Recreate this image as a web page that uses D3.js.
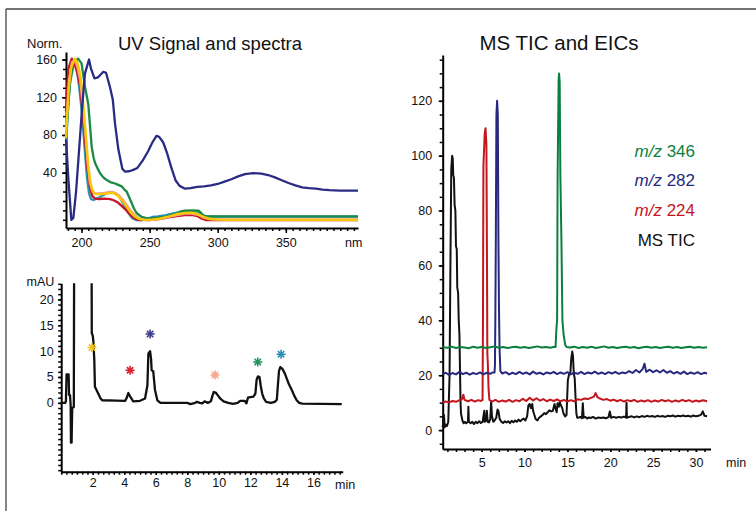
<!DOCTYPE html>
<html><head><meta charset="utf-8">
<script src="https://cdn.jsdelivr.net/npm/d3@7"></script>
<style>
body{margin:0;background:#fff}
text{font-family:"Liberation Sans",Arial,Helvetica,sans-serif;fill:#111}
</style>
</head><body>
<svg id="c" width="756" height="511"></svg>
<script>
// ---------------- DATA ----------------
// UV spectra: [wavelength nm, normalised absorbance]
const specTeal = [[188.6,68],[190.5,118],[192.5,150],[194.5,158],[196.5,150],[198.5,128],[200.5,100],[202.5,62],[204,35],[205.5,18],[207,12],[209,11],[211,12.5],[214,14.5],[218,18],[222,19],[225,18],[228,14],[231,6],[234,-2],[237,-8],[240,-10.2],[244,-10.5],[248,-9],[252,-7],[256,-6.5],[262,-5],[268,-3],[274,-1.5],[280,-1],[285,-1.5],[289,-5],[292,-6.5],[300,-6.7],[403,-6.7]];
const specGreen = [[188.6,80],[191.5,135],[194.5,157],[197.5,161],[200,156],[202.6,131],[204,120],[205,112],[206.5,85],[207.5,67],[209,55],[210,50],[212,44],[213.6,39.3],[216,35],[218.5,32.2],[221,30],[224.6,28.5],[227,27],[229.5,25.5],[231.5,22],[233.2,19.8],[235,14],[236.9,7.5],[238.5,2],[240.6,-3.1],[244.2,-7],[247,-8],[250.4,-8.4],[256,-7.8],[262.6,-6.7],[266,-5],[270,-3.1],[273,-1],[276,-0.3],[281,0],[285.9,-0.3],[288,-3],[289.6,-5.9],[292,-6.5],[294.5,-6.3],[403,-6.3]];
const specRed = [[188.6,105],[190.3,150],[192.8,161],[195,155],[197,145],[199,132],[201,100],[202.6,75],[204,50],[205,36],[206.5,22],[208,15],[210,12.5],[213,12],[217,12.5],[221,12],[224,10.5],[227,8],[230,4],[233,0],[236,-5],[239,-8.5],[242,-10],[250,-10.3],[258,-9],[264,-7.5],[270,-6],[276,-5],[281,-4.8],[285,-6],[288,-8.5],[291,-10.2],[305,-10.4],[403,-10.4]];
const specSalmon = [[188.6,85],[190.8,138],[193,157],[195,160],[197,152],[199,138],[201,110],[203,78],[204.5,50],[206,30],[208,20],[210,18],[213,18],[217,18.5],[221,19.5],[224,19],[227,16.5],[230,12],[233,6],[236,0],[239,-5],[242,-8.5],[246,-10],[252,-10],[258,-9],[264,-7],[270,-5],[276,-3.5],[281,-3.5],[286,-5],[290,-8],[295,-9.5],[403,-9.5]];
const specYellow = [[188.6,77],[190.5,128],[192.5,152],[195.2,161],[197.5,155],[199.5,140],[201.5,110],[203.5,75],[205,48],[206.5,30],[208,21],[210,17.5],[213,17],[217,17.5],[221,18.5],[224,18],[227,15],[230,10],[233,4],[236,-2],[239,-6.5],[242,-9],[246,-10],[252,-9.8],[258,-8.5],[264,-6.5],[270,-4],[276,-2.6],[281,-2.4],[285,-3.5],[289,-6.5],[293,-8.5],[298,-9.6],[304,-10],[403,-10]];
const specNavy = [[188.6,75],[190.5,30],[192.5,-10],[194,-8],[196,20],[198,60],[200.5,110],[202.5,145],[205.5,160],[207,150],[209.5,140],[212,141],[216,147],[218,146],[221,130],[223,117],[224.6,92],[227,65],[230,44],[232,41],[235,41.5],[238,43],[241,45],[245,53],[249,63],[252,72],[255,79],[257,78],[260,72],[263,60],[266,45],[269,32],[272,26],[276,23],[280,23.5],[285,25],[290,25.5],[295,26.5],[300,28],[305,30.5],[310,33],[315,36],[320,38.5],[326,39.5],[332,39],[337,37.5],[342,35],[347,32],[352,29],[357,26.5],[362,24.5],[367,23.5],[372,23],[377,22],[382,21.5],[390,21],[403,21]];

// UV chromatogram: [time min, mAU]
const uvTrace = [[0,0],[0.25,0],[0.3,0.3],[0.34,5.5],[0.47,5.5],[0.5,1.5],[0.56,1.5],[0.6,-0.5],[0.62,-7.7],[0.66,-7.7],[0.68,-4],[0.7,-1],[0.8,-0.8],[0.83,40],[1.92,40],[1.94,13.5],[2.0,13],[2.04,12],[2.1,8.3],[2.14,3.1],[2.3,2.1],[2.5,0.85],[2.6,0.5],[3.5,0.45],[4.05,0.4],[4.15,0.9],[4.26,1.9],[4.4,1.1],[4.57,0.3],[5.0,0.4],[5.32,0.85],[5.47,3.4],[5.53,9.5],[5.64,10],[5.7,8.5],[5.74,6.3],[5.84,6.1],[5.95,2.5],[6.1,0.5],[6.3,0],[8.0,0],[8.2,-0.25],[8.5,0],[8.6,0.2],[8.8,0],[8.95,-0.1],[9.1,0.3],[9.3,0],[9.5,0.3],[9.58,1.2],[9.68,2.1],[9.8,2.0],[9.95,1.4],[10.1,0.8],[10.3,0.3],[10.6,0],[10.9,-0.2],[11.2,0],[11.35,0.4],[11.65,0.4],[11.75,-0.1],[11.85,1],[12.0,1.1],[12.2,1.2],[12.32,1.8],[12.4,4.5],[12.48,5.1],[12.58,5.0],[12.66,3.3],[12.75,1.8],[12.85,0.9],[13.0,0.2],[13.3,0],[13.55,0.2],[13.68,0.6],[13.75,3.5],[13.82,6.2],[13.9,6.9],[14.05,6.5],[14.2,5.6],[14.31,4.7],[14.45,3.6],[14.63,2.5],[14.8,1.3],[14.94,0.5],[15.1,0],[15.3,-0.15],[17.8,-0.25]];
// asterisk markers above the peaks: [time, mAU]
const markTimes = [1.95, 4.37, 5.64, 9.76, 12.47, 13.95];
const markLevels = [10.7, 6.3, 13.3, 5.4, 7.9, 9.4];
const markColors = ["#f3c319","#d6202e","#3d3b8e","#f6a48a","#22915a","#2a8db5"];

// MS traces: [time min, intensity]
const eic346 = [[0.45,30.2],[1,30.0],[1.5,30.4],[2,29.9],[2.5,30.3],[3,30.1],[3.5,29.8],[4,30.4],[4.5,30.0],[5,30.3],[5.5,29.9],[6,30.2],[6.5,30.5],[7,30.0],[7.5,30.3],[8,29.9],[8.5,30.2],[9,30.4],[9.5,30.0],[10,30.3],[10.5,29.9],[11,30.2],[11.5,30.5],[12,30.1],[12.5,30.3],[13,30.0],[13.5,30.4],[13.62,30.3],[13.72,37],[13.8,40],[13.86,93],[13.98,128],[14.03,130],[14.1,127],[14.18,93],[14.3,70],[14.42,40],[14.55,35],[14.75,31],[14.9,30.3],[15.3,30.1],[15.8,30.4],[16.3,29.9],[16.8,30.3],[17.3,30.0],[17.8,30.4],[18.3,29.9],[18.8,30.2],[19.3,30.5],[19.8,30.0],[20.3,30.3],[20.8,29.9],[21.3,30.2],[21.8,30.4],[22.3,30.0],[22.8,30.3],[23.3,29.8],[23.8,30.2],[24.3,30.4],[24.8,30.0],[25.3,30.3],[25.8,29.9],[26.3,30.2],[26.8,30.4],[27.3,30.0],[27.8,30.3],[28.3,29.9],[28.8,30.2],[29.3,30.4],[29.8,30.0],[30.3,30.3],[30.8,30.0],[31.3,30.2]];
const eic282 = [[0.45,20.3],[0.8,20.9],[1.2,20.1],[1.6,20.8],[2.0,20.3],[2.4,21.2],[2.8,20.4],[3.2,20.9],[3.6,20.2],[4.0,20.8],[4.4,20.4],[4.8,21.0],[5.2,20.3],[5.6,20.9],[6.0,20.5],[6.3,21.0],[6.5,21],[6.55,24],[6.6,44],[6.65,70],[6.72,115],[6.8,120],[6.88,115],[6.95,70],[7.02,44],[7.08,30],[7.18,21.5],[7.4,20.6],[7.8,21.1],[8.2,20.3],[8.6,20.9],[9.0,20.4],[9.4,21.2],[9.8,20.5],[10.2,21.0],[10.6,20.3],[11.0,21.3],[11.4,20.5],[11.8,20.9],[12.2,20.3],[12.6,21.0],[13.0,20.6],[13.4,21.2],[13.8,20.4],[14.2,21.0],[14.6,20.5],[15.0,21.1],[15.4,20.3],[15.8,20.9],[16.2,20.5],[16.6,21.2],[17.0,20.4],[17.4,21.0],[17.8,20.6],[18.2,21.3],[18.6,20.5],[19.0,21.0],[19.4,20.4],[19.8,21.1],[20.2,20.6],[20.6,21.2],[21.0,20.5],[21.4,21.0],[21.8,20.7],[22.2,21.5],[22.6,20.8],[23.0,21.9],[23.4,21.0],[23.8,22.3],[24.0,24.2],[24.2,21.2],[24.6,22.0],[25.0,21.1],[25.4,21.8],[25.8,21.0],[26.2,21.9],[26.6,20.9],[27.0,21.5],[27.4,20.6],[27.8,21.2],[28.2,20.5],[28.6,21.3],[29.0,20.4],[29.4,21.0],[29.8,20.5],[30.2,21.1],[30.6,20.4],[31.0,20.9],[31.3,20.6]];
const eic224 = [[0.45,10.0],[0.8,10.4],[1.2,10.1],[1.6,10.6],[2.0,10.3],[2.4,10.9],[2.7,11.2],[2.86,12.9],[3.0,11.0],[3.4,10.5],[3.8,11.0],[4.2,10.4],[4.6,10.9],[4.9,10.6],[5.1,11],[5.15,40],[5.2,96],[5.35,108],[5.45,110],[5.55,104],[5.62,60],[5.66,28],[5.72,24],[5.8,15],[5.9,11],[6.2,10.4],[6.6,11.0],[7.0,10.3],[7.4,10.8],[7.8,10.4],[8.2,11.0],[8.6,10.3],[9.0,10.9],[9.4,10.5],[9.8,11.4],[10.2,10.6],[10.6,11.8],[11.0,10.8],[11.4,11.6],[11.8,10.7],[12.2,11.3],[12.6,10.5],[13.0,11.1],[13.4,10.6],[13.8,11.2],[14.2,10.5],[14.6,11.0],[15.0,10.4],[15.4,10.9],[15.8,10.5],[16.2,11.2],[16.6,11.0],[17.0,11.5],[17.4,11.3],[17.8,11.8],[18.1,12.2],[18.3,13.5],[18.5,12.0],[18.8,11.5],[19.2,11.0],[19.6,11.3],[20.0,10.7],[20.4,11.1],[20.8,10.5],[21.2,11.0],[21.6,10.4],[22.0,10.9],[22.4,10.5],[22.8,11.0],[23.2,10.3],[23.6,10.8],[24.0,10.4],[24.4,10.9],[24.8,10.3],[25.2,10.8],[25.6,10.4],[26.0,11.0],[26.4,10.5],[26.8,10.9],[27.2,10.3],[27.6,10.8],[28.0,10.4],[28.4,11.0],[28.8,10.5],[29.2,10.9],[29.6,10.3],[30.0,10.8],[30.4,10.4],[30.8,10.9],[31.3,10.5]];
const msTic = [[0.45,1],[0.55,5],[0.6,5.5],[0.68,1],[0.8,2],[0.95,1.5],[1.1,3],[1.25,20],[1.35,60],[1.45,95],[1.55,100],[1.62,99],[1.68,93],[1.76,92],[1.84,82],[1.93,80],[2.0,67],[2.09,66],[2.15,52],[2.25,50],[2.32,40],[2.4,35],[2.47,22],[2.53,10],[2.59,6],[2.75,3.5],[2.9,2.5],[3.05,3],[3.2,2.5],[3.4,3],[3.45,8.5],[3.5,3],[3.7,2.5],[3.9,3],[4.1,2.2],[4.3,3],[4.5,2.5],[4.7,3.2],[4.9,2.6],[5.1,3],[5.3,7],[5.35,3],[5.5,3.5],[5.6,7],[5.7,3],[5.85,2.8],[6.0,4],[6.1,10.5],[6.2,5],[6.35,3],[6.5,3.5],[6.7,4.5],[6.85,7.5],[6.95,7],[7.1,4],[7.3,3],[7.5,2.6],[7.7,3.2],[7.9,2.8],[8.1,3.2],[8.3,2.5],[8.5,3.4],[8.7,2.8],[8.9,3.5],[9.1,3],[9.3,3.8],[9.5,3.2],[9.7,3.8],[9.9,4.2],[10.1,3.5],[10.3,5],[10.45,9],[10.6,9.5],[10.75,8],[10.9,9.5],[11.0,7],[11.15,5.5],[11.3,4],[11.5,3.5],[11.7,4.5],[11.9,5],[12.1,5.5],[12.3,6.2],[12.5,5.8],[12.7,6.5],[12.9,7.2],[13.1,6.8],[13.3,7],[13.5,9.5],[13.6,8],[13.75,6.5],[13.85,9.8],[14.0,8.5],[14.1,10.2],[14.25,9],[14.4,8],[14.55,6],[14.75,5],[14.9,5.5],[15.05,18],[15.2,20.5],[15.35,21],[15.45,26],[15.57,28.6],[15.65,27],[15.75,20.5],[15.85,19],[15.95,12],[16.05,6],[16.15,4.5],[16.3,4.5],[16.5,4.8],[16.7,4.3],[16.8,9.8],[16.9,4.5],[17.1,4.8],[17.3,4.2],[17.5,4.6],[17.7,4.4],[18.0,4.8],[18.3,4.2],[18.6,4.6],[18.9,4.4],[19.2,4.6],[19.5,4.3],[19.8,4.7],[19.95,6.8],[20.1,4.5],[20.4,4.8],[20.7,4.5],[21.0,4.8],[21.3,4.6],[21.6,4.9],[21.85,4.5],[21.9,10],[21.95,4.5],[22.2,4.8],[22.5,5],[22.8,4.6],[23.1,5],[23.4,4.7],[23.7,5.1],[24.0,4.8],[24.3,5.2],[24.6,4.9],[24.9,5.1],[25.2,4.8],[25.5,5.2],[25.8,4.9],[26.1,5.1],[26.4,4.8],[26.7,5.2],[27.0,5],[27.3,5.3],[27.6,4.9],[27.9,5.2],[28.2,5],[28.5,5.3],[28.8,5],[29.1,5.2],[29.4,4.9],[29.7,5.3],[30.0,5],[30.3,5.2],[30.6,5.6],[30.8,6.8],[31.0,5.2],[31.3,5]];

// tick labels
const uvSpecYLabels = [40, 80, 120, 160];
const uvSpecXLabels = [200, 250, 300, 350];
const uvChromYLabels = [0, 5, 10, 15, 20];
const uvChromXLabels = [2, 4, 6, 8, 10, 12, 14, 16];
const msYLabels = [0, 20, 40, 60, 80, 100, 120];
const msXLabels = [5, 10, 15, 20, 25, 30];
const legendNames = ["346", "282", "224"];
const legendColors = ["#0b7f3e", "#27287f", "#c4161c"];

// ---------------- DRAWING ----------------
const svg = d3.select("#c");

// frame
svg.append("line").attr("x1",6).attr("y1",9).attr("x2",756).attr("y2",9).attr("stroke","#444").attr("stroke-width",1.3);
svg.append("line").attr("x1",6).attr("y1",9).attr("x2",6).attr("y2",511).attr("stroke","#444").attr("stroke-width",1.3);

function styleAxis(g){
  g.select(".domain").attr("stroke","#000").attr("stroke-width",2);
  g.selectAll(".tick line").attr("stroke","#000").attr("stroke-width",1.5);
  g.selectAll("text").attr("font-size",12.5).attr("fill","#111").attr("font-family",'"Liberation Sans",Arial,sans-serif');
}
function drawAxes(x, y, xLab, xMinor, yLab, yMinor, opt){
  const [x0] = x.range(); const [y0] = y.range();
  // minor ticks
  svg.append("g").attr("transform",`translate(0,${y0})`)
    .call(d3.axisBottom(x).tickValues(xMinor).tickSize(3).tickFormat("").tickSizeOuter(0))
    .call(g=>{g.select(".domain").remove(); g.selectAll("line").attr("stroke","#000").attr("stroke-width",1.5);});
  svg.append("g").attr("transform",`translate(${x0},0)`)
    .call(d3.axisLeft(y).tickValues(yMinor).tickSize(3).tickFormat("").tickSizeOuter(0))
    .call(g=>{g.select(".domain").remove(); g.selectAll("line").attr("stroke","#000").attr("stroke-width",1.5);});
  // major
  svg.append("g").attr("transform",`translate(0,${y0})`)
    .call(d3.axisBottom(x).tickValues(xLab).tickSize(opt.xTick).tickPadding(opt.xPad).tickSizeOuter(0).tickFormat(d3.format("d")))
    .call(styleAxis);
  svg.append("g").attr("transform",`translate(${x0},0)`)
    .call(d3.axisLeft(y).tickValues(yLab).tickSize(opt.yTick).tickPadding(opt.yPad).tickSizeOuter(0).tickFormat(d3.format("d")))
    .call(styleAxis);
}

// ---- UV spectra panel ----
const xs = d3.scaleLinear().domain([188.6, 403]).range([66, 358]);
const ys = d3.scaleLinear().domain([-18.7, 168]).range([228, 52]);
drawAxes(xs, ys, uvSpecXLabels, d3.range(190, 401, 5), uvSpecYLabels, d3.range(-10, 161, 10),
  {xTick:5, xPad:5.5, yTick:4, yPad:5});
const lineS = d3.line().x(d=>xs(d[0])).y(d=>ys(d[1]));
[[specTeal,"#2a93b3"],[specGreen,"#1c8a47"],[specRed,"#c8152a"],[specSalmon,"#f4a282"],[specYellow,"#f8c900"],[specNavy,"#2a2c84"]]
 .forEach(([d,c])=>svg.append("path").datum(d).attr("d",lineS).attr("fill","none").attr("stroke",c).attr("stroke-width",2.3).attr("stroke-linejoin","round"));
svg.append("text").attr("x",210).attr("y",50).attr("text-anchor","middle").attr("font-size",18.5).attr("fill","#222").text("UV Signal and spectra");
svg.append("text").attr("x",27).attr("y",48).attr("font-size",13).text("Norm.");
svg.append("text").attr("x",345).attr("y",247).attr("font-size",12.5).text("nm");

// ---- UV chromatogram panel ----
const xc = d3.scaleLinear().domain([0, 17.86]).range([61.2, 342.7]);
const yc = d3.scaleLinear().domain([-13.3, 23.1]).range([471.7, 283.3]);
drawAxes(xc, yc, uvChromXLabels, d3.range(0, 17.86, 1/3), uvChromYLabels, d3.range(-13, 24, 1),
  {xTick:3, xPad:3.5, yTick:3, yPad:4.5});
svg.append("clipPath").attr("id","cc").append("rect").attr("x",61).attr("y",283.3).attr("width",284).attr("height",190);
svg.append("path").datum(uvTrace).attr("clip-path","url(#cc)")
  .attr("d", d3.line().x(d=>xc(d[0])).y(d=>yc(d[1])))
  .attr("fill","none").attr("stroke","#111").attr("stroke-width",2.3).attr("stroke-linejoin","round");
// asterisks
markTimes.forEach((t,i)=>{
  const cx = xc(t), cy = yc(markLevels[i]), r = 4.5;
  const g = svg.append("g").attr("transform",`translate(${cx},${cy})`);
  [0,45,90,135].forEach(a=>{
    const rad = a*Math.PI/180;
    g.append("line").attr("x1",-r*Math.cos(rad)).attr("y1",-r*Math.sin(rad)).attr("x2",r*Math.cos(rad)).attr("y2",r*Math.sin(rad))
      .attr("stroke",markColors[i]).attr("stroke-width",1.6);
  });
});
svg.append("text").attr("x",26.5).attr("y",286).attr("font-size",12.5).text("mAU");
svg.append("text").attr("x",335).attr("y",489).attr("font-size",12.5).text("min");

// ---- MS panel ----
const xm = d3.scaleLinear().domain([0.45, 31.7]).range([442.7, 710.5]);
const ym = d3.scaleLinear().domain([-6.9, 136.7]).range([449, 55]);
drawAxes(xm, ym, msXLabels, d3.range(1, 32, 1), msYLabels, d3.range(-5, 136, 5),
  {xTick:3, xPad:6, yTick:4, yPad:6.5});
const lineM = d3.line().x(d=>xm(d[0])).y(d=>ym(d[1]));
[[msTic,"#111"],[eic224,"#c4161c"],[eic282,"#27287f"],[eic346,"#0b7f3e"]]
 .forEach(([d,c])=>svg.append("path").datum(d).attr("d",lineM).attr("fill","none").attr("stroke",c).attr("stroke-width",2).attr("stroke-linejoin","round"));
svg.append("text").attr("x",559).attr("y",50).attr("text-anchor","middle").attr("font-size",20.5).attr("fill","#222").text("MS TIC and EICs");
svg.append("text").attr("x",726).attr("y",467).attr("font-size",12.5).text("min");

// legend
const legY = [157, 186, 216];
legendNames.forEach((n,i)=>{
  const t = svg.append("text").attr("x",695).attr("y",legY[i]).attr("text-anchor","end").attr("font-size",17).attr("fill",legendColors[i]);
  t.append("tspan").attr("font-style","italic").attr("fill",legendColors[i]).text("m/z");
  t.append("tspan").attr("fill",legendColors[i]).text(" " + n);
});
svg.append("text").attr("x",695).attr("y",246).attr("text-anchor","end").attr("font-size",17).attr("fill","#111").text("MS TIC");
</script>
</body></html>
